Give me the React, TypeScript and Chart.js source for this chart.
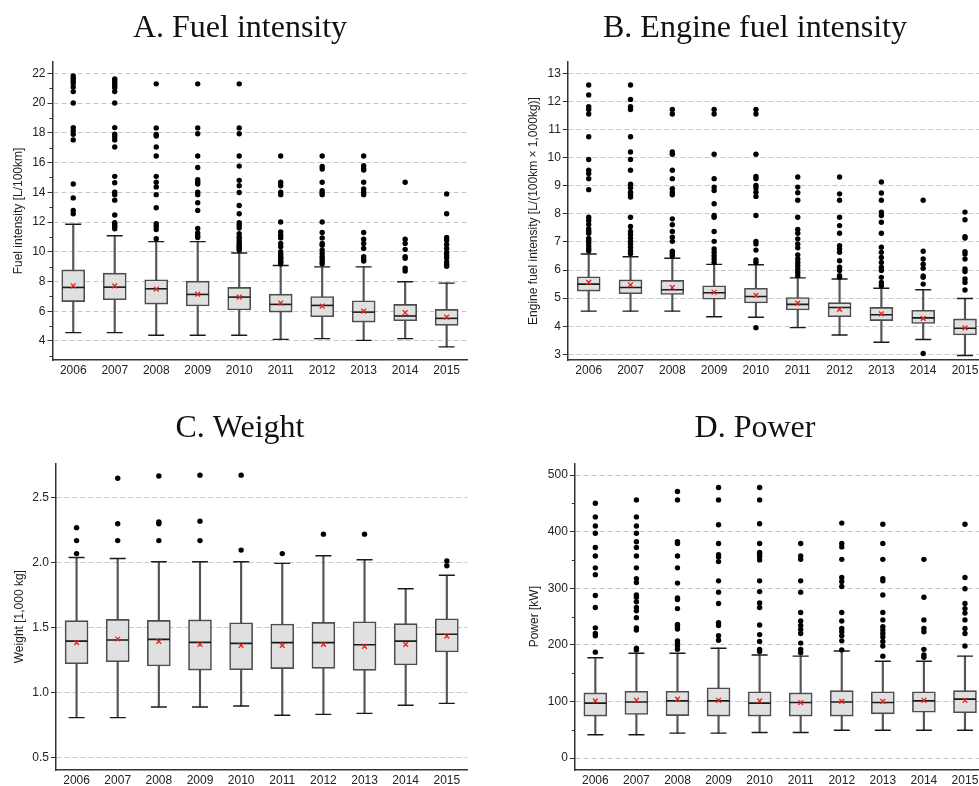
import React, { useEffect, useRef } from 'react';
import { Chart, registerables } from 'chart.js';

Chart.register(...registerables);
Chart.defaults.font.family = "'Liberation Sans', Arial, sans-serif";

const years = ['2006', '2007', '2008', '2009', '2010', '2011', '2012', '2013', '2014', '2015'];

// ---------- A. Fuel intensity ----------
const fuelLow = [4.56, 4.56, 4.38, 4.38, 4.38, 4.11, 4.16, 4.04, 4.16, 3.6];
const fuelQ1 = [6.65, 6.77, 6.48, 6.35, 6.08, 5.94, 5.63, 5.27, 5.36, 5.05];
const fuelMedian = [7.6, 7.62, 7.51, 7.13, 6.95, 6.46, 6.39, 5.94, 5.68, 5.52];
const fuelQ3 = [8.78, 8.56, 8.11, 8.02, 7.6, 7.15, 6.99, 6.7, 6.46, 6.12];
const fuelHigh = [11.85, 11.08, 10.68, 10.68, 9.92, 9.07, 8.98, 8.98, 7.98, 7.89];
const fuelMean = [7.71, 7.7, 7.49, 7.15, 6.95, 6.55, 6.35, 6.01, 5.9, 5.61];
const fuelOutliers = [
  [21.82, 21.66, 21.5, 21.35, 21.08, 20.77, 20.0, 18.35, 18.13, 17.9, 17.52, 14.56, 13.62, 12.78, 12.56],
  [21.62, 21.48, 21.33, 21.17, 21.03, 20.77, 20.0, 18.35, 17.9, 17.74, 17.52, 17.04, 15.07, 14.64, 14.0, 13.84, 13.47, 12.47, 11.96, 11.84, 11.7, 11.55],
  [21.29, 18.33, 17.89, 17.78, 17.04, 16.44, 15.07, 14.67, 14.36, 13.84, 12.96, 11.89, 11.7, 11.49, 10.88],
  [21.29, 18.33, 17.93, 16.44, 15.67, 14.84, 14.67, 14.56, 14.0, 13.84, 13.29, 12.78, 11.56, 11.27, 11.1, 10.95],
  [21.29, 18.33, 17.93, 16.44, 15.76, 14.8, 14.44, 13.98, 13.11, 12.56, 11.96, 11.78, 11.6, 11.22, 11.0, 10.89, 10.7, 10.56, 10.4, 10.33, 10.22, 10.1],
  [16.44, 14.67, 14.44, 14.0, 13.84, 12.0, 11.33, 11.11, 10.93, 10.56, 10.33, 10.0, 9.82, 9.67, 9.56, 9.4, 9.29, 9.18],
  [16.44, 15.73, 15.56, 14.67, 14.11, 13.96, 13.84, 12.0, 11.29, 10.93, 10.56, 10.44, 10.11, 9.89, 9.67, 9.51, 9.33, 9.2],
  [16.44, 15.78, 15.6, 15.49, 14.67, 14.22, 14.0, 13.84, 11.29, 10.84, 10.56, 10.22, 9.67, 9.51, 9.38],
  [14.67, 10.84, 10.56, 10.16, 9.67, 9.56, 8.89, 8.71],
  [13.89, 12.56, 10.96, 10.78, 10.49, 10.22, 9.96, 9.78, 9.6, 9.33, 9.16, 9.02],
];
const fuelTicks = [4, 6, 8, 10, 12, 14, 16, 18, 20, 22];
const fuelMinor = [3, 5, 7, 9, 11, 13, 15, 17, 19, 21];

// ---------- B. Engine fuel intensity ----------
const engLow = [4.54, 4.54, 4.54, 4.34, 4.32, 3.95, 3.69, 3.43, 3.53, 2.96];
const engQ1 = [5.25, 5.16, 5.13, 4.96, 4.83, 4.58, 4.34, 4.2, 4.1, 3.69];
const engMedian = [5.5, 5.38, 5.3, 5.19, 5.06, 4.78, 4.67, 4.41, 4.3, 3.93];
const engQ3 = [5.76, 5.65, 5.63, 5.44, 5.35, 5.02, 4.84, 4.67, 4.57, 4.26];
const engHigh = [6.57, 6.47, 6.42, 6.2, 6.19, 5.72, 5.68, 5.35, 5.3, 4.99];
const engMean = [5.56, 5.47, 5.38, 5.21, 5.1, 4.82, 4.6, 4.44, 4.28, 3.94];
const engOutliers = [
  [12.58, 12.23, 11.81, 11.71, 11.55, 10.74, 9.93, 9.55, 9.43, 9.25, 8.86, 7.88, 7.76, 7.62, 7.46, 7.38, 7.31, 7.12, 7.04, 6.96, 6.86, 6.76, 6.68],
  [12.58, 12.07, 11.81, 11.71, 10.74, 10.2, 9.93, 9.55, 9.05, 8.93, 8.77, 8.68, 8.6, 7.88, 7.55, 7.37, 7.26, 7.14, 7.02, 6.93, 6.81, 6.69, 6.58],
  [11.71, 11.55, 10.2, 10.12, 9.55, 9.25, 8.89, 8.77, 8.68, 7.82, 7.61, 7.37, 7.17, 7.02, 6.67, 6.57, 6.5],
  [11.71, 11.55, 10.12, 9.25, 8.95, 8.83, 8.36, 7.94, 7.88, 7.37, 7.02, 6.75, 6.63, 6.51, 6.39, 6.27],
  [11.71, 11.55, 10.12, 9.33, 9.25, 9.01, 8.92, 8.77, 8.62, 7.94, 7.02, 6.93, 6.71, 6.36, 6.27, 3.95],
  [9.31, 8.95, 8.75, 8.48, 7.88, 7.44, 7.31, 7.11, 6.93, 6.79, 6.54, 6.39, 6.27, 6.15, 6.04, 5.92, 5.8],
  [9.31, 8.71, 8.48, 7.88, 7.58, 7.31, 6.87, 6.75, 6.63, 6.33, 6.1, 5.98, 5.8, 5.74],
  [9.13, 8.74, 8.48, 8.06, 7.94, 7.7, 7.31, 6.81, 6.63, 6.45, 6.27, 6.1, 5.98, 5.74, 5.56, 5.44],
  [8.48, 6.67, 6.39, 6.21, 6.06, 5.79, 5.74, 5.5, 3.03],
  [8.06, 7.79, 7.19, 7.14, 6.65, 6.57, 6.39, 6.04, 5.95, 5.68, 5.56, 5.29],
];
const engTicks = [3, 4, 5, 6, 7, 8, 9, 10, 11, 12, 13];

// ---------- C. Weight ----------
const wLow = [0.808, 0.808, 0.89, 0.89, 0.897, 0.826, 0.833, 0.841, 0.903, 0.918];
const wQ1 = [1.223, 1.238, 1.205, 1.174, 1.177, 1.185, 1.187, 1.172, 1.213, 1.313];
const wMedian = [1.397, 1.405, 1.41, 1.387, 1.379, 1.385, 1.385, 1.369, 1.397, 1.449];
const wQ3 = [1.554, 1.564, 1.556, 1.56, 1.538, 1.528, 1.541, 1.546, 1.531, 1.569];
const wHigh = [2.04, 2.033, 2.008, 2.008, 2.008, 1.995, 2.054, 2.023, 1.8, 1.903];
const wMean = [1.385, 1.413, 1.395, 1.372, 1.364, 1.364, 1.372, 1.356, 1.372, 1.436];
const wOutliers = [
  [2.27, 2.17, 2.07],
  [2.65, 2.3, 2.17],
  [2.667, 2.313, 2.3, 2.17],
  [2.674, 2.32, 2.17],
  [2.674, 2.097],
  [2.07],
  [2.22],
  [2.22],
  [],
  [2.013, 1.977],
];
const wTicks = [0.5, 1.0, 1.5, 2.0, 2.5];

// ---------- D. Power ----------
const pLow = [41, 41, 44, 44, 45, 45, 49, 49, 49, 49];
const pQ1 = [74, 77, 75, 74, 74, 74, 74, 78, 81, 80];
const pMedian = [97, 99, 101, 101, 97, 98, 99, 98, 101, 104];
const pQ3 = [115, 118, 118, 124, 117, 115, 119, 117, 117, 119];
const pHigh = [177, 185, 185, 194, 182, 180, 189, 171, 171, 180];
const pMean = [101, 102, 104, 102, 101, 98, 100, 100, 102, 102];
const pOutliers = [
  [450, 426, 410, 397, 372, 357, 336, 324, 287, 266, 230, 220, 216, 187],
  [456, 426, 410, 397, 382, 372, 357, 336, 317, 310, 288, 284, 276, 266, 260, 248, 230, 226, 194, 191],
  [471, 456, 382, 379, 357, 336, 309, 283, 280, 264, 236, 232, 228, 207, 203, 198, 192],
  [478, 456, 412, 379, 359, 355, 347, 313, 293, 273, 239, 234, 216, 208],
  [478, 456, 414, 379, 363, 360, 356, 350, 313, 294, 274, 266, 235, 218, 206, 192, 188],
  [379, 357, 351, 313, 293, 257, 242, 234, 227, 220, 203, 192, 186],
  [415, 379, 373, 351, 319, 312, 303, 257, 242, 229, 223, 216, 207, 191],
  [413, 379, 351, 317, 313, 288, 257, 244, 232, 226, 220, 214, 206, 198, 180],
  [351, 284, 244, 229, 223, 192, 182, 178],
  [413, 319, 299, 273, 264, 256, 244, 229, 220, 198],
];
const pTicks = [0, 100, 200, 300, 400, 500];
const pMinor = [50, 150, 250, 350, 450];

type Spec = {
  title: string;
  yTitle: string;
  low: number[]; q1: number[]; median: number[]; q3: number[]; high: number[]; mean: number[];
  outliers: number[][];
  ticks: number[];
  minor: number[];
  decimals: number;
  min: number; max: number;
  yWidth: number; padRight: number; yTitlePad: number; xHeight: number; titleBottom: number;
};

const minorTickPlugin = {
  id: 'minorTicks',
  afterDraw(chart: any, _args: any, opts: any) {
    const vals: number[] = (opts && opts.values) || [];
    const s = chart.scales.y;
    const ctx = chart.ctx;
    ctx.save();
    ctx.strokeStyle = '#333';
    ctx.lineWidth = 1;
    vals.forEach((v) => {
      if (v < s.min || v > s.max) return;
      const y = Math.round(s.getPixelForValue(v)) + 0.5;
      ctx.beginPath();
      ctx.moveTo(s.right, y);
      ctx.lineTo(s.right - 3, y);
      ctx.stroke();
    });
    ctx.restore();
  },
};

function buildConfig(p: Spec) {
  const outlierPts = p.outliers.flatMap((arr, i) => arr.map((v) => ({ x: years[i], y: v })));
  const boxes = p.q1.map((q, i) => [q, p.q3[i]]);
  const stems = p.low.map((l, i) => [l, p.high[i]]);
  const pointBase = { type: 'line', showLine: false, borderWidth: 0 };
  return {
    type: 'bar',
    data: {
      labels: years,
      datasets: [
        { ...pointBase, data: outlierPts, pointStyle: 'circle', pointRadius: 2.7, pointBackgroundColor: '#000', pointBorderColor: '#000', pointBorderWidth: 0 },
        { ...pointBase, data: p.mean, pointStyle: 'crossRot', pointRadius: 3.4, pointBorderColor: '#e3241b', pointBackgroundColor: '#e3241b', pointBorderWidth: 1.3 },
        { ...pointBase, data: p.median, pointStyle: 'line', pointRadius: 11, pointBorderColor: '#1a1a1a', pointBorderWidth: 1.6 },
        { ...pointBase, data: p.high, pointStyle: 'line', pointRadius: 8, pointBorderColor: '#1a1a1a', pointBorderWidth: 1.4 },
        { ...pointBase, data: p.low, pointStyle: 'line', pointRadius: 8, pointBorderColor: '#1a1a1a', pointBorderWidth: 1.4 },
        { type: 'bar', data: boxes, backgroundColor: '#e0e0e0', borderColor: '#4d4d4d', borderWidth: 1.6, borderSkipped: false, barThickness: 23, grouped: false },
        { type: 'bar', data: stems, backgroundColor: '#555', borderWidth: 0, barThickness: 1.5, grouped: false },
      ],
    },
    options: {
      responsive: false,
      animation: false,
      events: [],
      layout: { padding: 0 },
      plugins: {
        legend: { display: false },
        tooltip: { enabled: false },
        title: {
          display: true,
          text: p.title,
          color: '#111',
          font: { family: "'Liberation Serif', serif", size: 32, weight: 'normal', lineHeight: 1 },
          padding: { top: 12.2, bottom: p.titleBottom },
        },
        minorTicks: { values: p.minor },
      },
      scales: {
        x: {
          type: 'category',
          offset: true,
          grid: { display: false, drawTicks: false },
          border: { display: true, color: '#333', width: 1.5 },
          ticks: { color: '#222', font: { size: 12 }, padding: 3, maxRotation: 0, autoSkip: false },
          afterFit: (s: any) => { s.height = p.xHeight; },
        },
        y: {
          type: 'linear',
          min: p.min,
          max: p.max,
          afterBuildTicks: (s: any) => { s.ticks = p.ticks.map((v) => ({ value: v })); },
          ticks: { color: '#222', font: { size: 12 }, padding: 2, callback: (v: any) => Number(v).toFixed(p.decimals) },
          grid: { color: '#c8c8c8', lineWidth: 1, tickLength: 5, tickColor: '#333', tickWidth: 1, drawTicks: true },
          border: { display: true, color: '#333', width: 1.5, dash: [5, 3] },
          title: { display: true, text: p.yTitle, color: '#222', font: { size: 12 }, padding: { top: p.yTitlePad, bottom: 0 } },
          afterFit: (s: any) => { s.width = p.yWidth; },
        },
        yr: {
          type: 'linear',
          position: 'right',
          display: true,
          grid: { display: false, drawTicks: false },
          border: { display: false },
          ticks: { display: false },
          afterFit: (s: any) => { s.width = p.padRight; },
        },
      },
    },
    plugins: [minorTickPlugin],
  };
}

const specA: Spec = {
  title: 'A. Fuel intensity', yTitle: 'Fuel intensity [L/100km]',
  low: fuelLow, q1: fuelQ1, median: fuelMedian, q3: fuelQ3, high: fuelHigh, mean: fuelMean, outliers: fuelOutliers,
  ticks: fuelTicks, minor: fuelMinor, decimals: 0, min: 2.72, max: 22.76,
  yWidth: 52.5, padRight: 9.8, yTitlePad: 11.1, xHeight: 20, titleBottom: 17.8,
};
const specB: Spec = {
  title: 'B. Engine fuel intensity', yTitle: 'Engine fuel intensity [L/(100km × 1,000kg)]',
  low: engLow, q1: engQ1, median: engMedian, q3: engQ3, high: engHigh, mean: engMean, outliers: engOutliers,
  ticks: engTicks, minor: [], decimals: 0, min: 2.8, max: 13.4,
  yWidth: 77.8, padRight: 34.1, yTitlePad: 36.8, xHeight: 20, titleBottom: 17.8,
};
const specC: Spec = {
  title: 'C. Weight', yTitle: 'Weight [1,000 kg]',
  low: wLow, q1: wQ1, median: wMedian, q3: wQ3, high: wHigh, mean: wMean, outliers: wOutliers,
  ticks: wTicks, minor: [], decimals: 1, min: 0.405, max: 2.765,
  yWidth: 56, padRight: 10, yTitlePad: 12.1, xHeight: 16, titleBottom: 19.1,
};
const specD: Spec = {
  title: 'D. Power', yTitle: 'Power [kW]',
  low: pLow, q1: pQ1, median: pMedian, q3: pQ3, high: pHigh, mean: pMean, outliers: pOutliers,
  ticks: pTicks, minor: pMinor, decimals: 0, min: -21.2, max: 520.7,
  yWidth: 84.8, padRight: 34.5, yTitlePad: 37.1, xHeight: 16, titleBottom: 19.1,
};

function Panel({ spec, left, top, width, height }: { spec: Spec; left: number; top: number; width: number; height: number }) {
  const ref = useRef<HTMLCanvasElement>(null);
  useEffect(() => {
    const chart = new Chart(ref.current as HTMLCanvasElement, buildConfig(spec) as any);
    return () => chart.destroy();
  }, [spec]);
  return (
    <canvas
      ref={ref}
      width={width}
      height={height}
      style={{ position: 'absolute', left, top, width, height }}
    />
  );
}

export default function App() {
  return (
    <div style={{ position: 'fixed', left: 0, top: 0, width: 979, height: 786, overflow: 'hidden', background: '#fff' }}>
      <Panel spec={specA} left={0} top={0} width={480} height={380} />
      <Panel spec={specB} left={490} top={0} width={530} height={380} />
      <Panel spec={specC} left={0} top={400} width={480} height={386} />
      <Panel spec={specD} left={490} top={400} width={530} height={386} />
    </div>
  );
}
